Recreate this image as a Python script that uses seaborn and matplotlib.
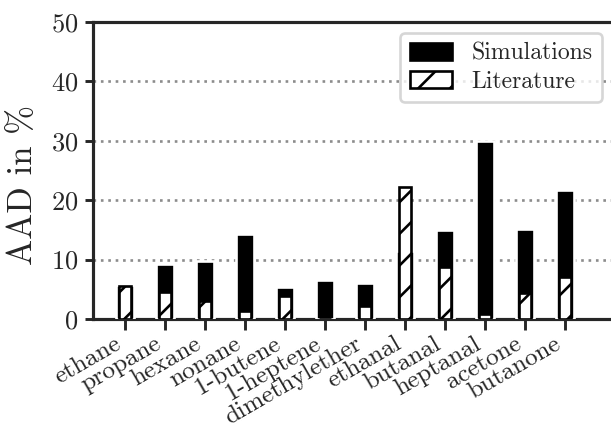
import numpy as np
import pandas as pd
import matplotlib
matplotlib.use("Agg")
import matplotlib.pyplot as plt
import seaborn as sns
from matplotlib.patches import Patch

compounds = ["ethane", "propane", "hexane", "nonane", "1-butene", "1-heptene",
             "dimethylether", "ethanal", "butanal", "heptanal", "acetone", "butanone"]
aad_simulations = [5.8, 9.3, 9.8, 14.3, 5.4, 6.6, 6.1, 11.4, 15.0, 30.0, 15.1, 21.8]
aad_literature = [5.6, 4.5, 3.1, 1.3, 3.8, 0.0, 2.2, 22.3, 8.7, 0.8, 4.4, 7.0]
y_ticks = [0, 10, 20, 30, 40, 50]

sns.set_theme(style="ticks")
plt.rcParams["font.family"] = ["cmr10", "DejaVu Serif"]
plt.rcParams["mathtext.fontset"] = "cm"
plt.rcParams["axes.formatter.use_mathtext"] = True
plt.rcParams["hatch.linewidth"] = 1.0

df = pd.DataFrame({"compound": compounds,
                   "Simulations": aad_simulations,
                   "Literature": aad_literature})

DPI = 190
fig = plt.figure(figsize=(611 / DPI, 428 / DPI), dpi=DPI)
ax = fig.add_axes([93 / 611, 1 - 319 / 428, (611 - 93) / 611, (319 - 22) / 428])

sns.barplot(data=df, x="compound", y="Simulations", color="black",
            saturation=1, width=0.45, ax=ax, zorder=3)
sns.barplot(data=df, x="compound", y="Literature", color="white",
            saturation=1, width=0.31, edgecolor="black", linewidth=1.0,
            hatch="//", ax=ax, zorder=4)

ax.set_ylim(0, 50)
ax.set_yticks(y_ticks)
ax.set_xlim(-0.8, 12.15)
ax.yaxis.grid(True, linestyle=(0, (1, 1.8)), color="#8c8c8c", linewidth=1.0, zorder=0)
ax.set_axisbelow(True)

for side in ["left", "bottom", "top"]:
    ax.spines[side].set_linewidth(1.2)
    ax.spines[side].set_color("#262626")
ax.spines["right"].set_visible(False)
ax.tick_params(axis="both", width=1.1, color="#262626", labelsize=10)
ax.tick_params(axis="x", length=4.2, pad=1.0, labelsize=9.6)
ax.tick_params(axis="y", length=3.0, pad=2.5)

ax.set_xlabel("")
ax.set_ylabel("AAD in %", fontsize=13.2)
ax.yaxis.set_label_coords(-0.105, 0.45)
plt.setp(ax.get_xticklabels(), rotation=30, ha="right")

handles = [Patch(facecolor="black", edgecolor="black", label="Simulations"),
           Patch(facecolor="white", edgecolor="black", hatch="//", linewidth=1.0,
                 label="Literature")]
leg = ax.legend(handles=handles, loc="upper right", fontsize=9,
                bbox_to_anchor=(602 / 611, 1 - 33 / 428), bbox_transform=fig.transFigure,
                frameon=True, fancybox=True, borderaxespad=0.0,
                labelspacing=0.25, handlelength=1.8)
leg.get_frame().set_edgecolor("#cccccc")

fig.savefig("out.png", dpi=DPI)
